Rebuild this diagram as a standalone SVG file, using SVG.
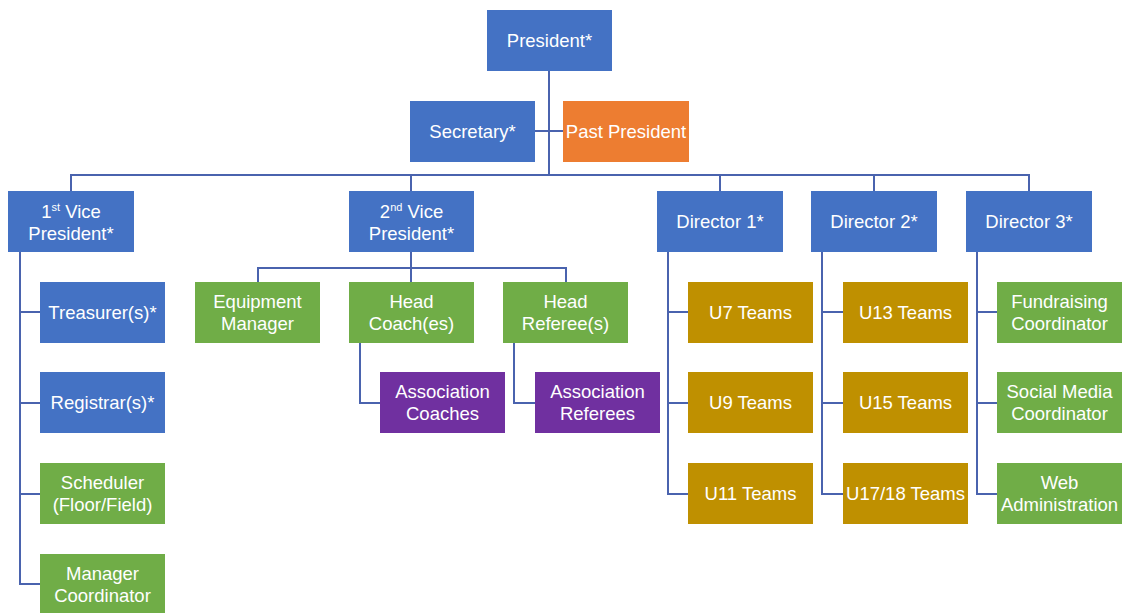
<svg xmlns="http://www.w3.org/2000/svg" width="1127" height="613" viewBox="0 0 1127 613">
<style>
.box{stroke:none}
.blue{fill:#4472C4}
.orange{fill:#ED7D31}
.green{fill:#70AD47}
.gold{fill:#BF9000}
.purple{fill:#7030A0}
text{font-family:"Liberation Sans","Open Sans",sans-serif;font-size:18.5px;fill:#FFFFFF;text-anchor:middle}
.sup{font-size:11px}
#connectors path{fill:none;stroke:#4A63AE;stroke-width:2}
</style>
<rect width="1127" height="613" fill="#FFFFFF"/>
<g id="connectors">
<path d="M549 71 V175"/>
<path d="M535 131 H563"/>
<path d="M71 191 V175 H1029 V191"/>
<path d="M411 175 V191"/>
<path d="M720 175 V191"/>
<path d="M874 175 V191"/>
<path d="M20 252 V584 H40"/>
<path d="M20 312 H40"/>
<path d="M20 403 H40"/>
<path d="M20 494 H40"/>
<path d="M411 252 V268"/>
<path d="M258 282 V268 H566 V282"/>
<path d="M411 268 V282"/>
<path d="M360 343 V403 H380"/>
<path d="M514 343 V403 H535"/>
<path d="M668 252 V494 H688"/>
<path d="M668 312 H688"/>
<path d="M668 403 H688"/>
<path d="M822 252 V494 H843"/>
<path d="M822 312 H843"/>
<path d="M822 403 H843"/>
<path d="M977 252 V494 H997"/>
<path d="M977 312 H997"/>
<path d="M977 403 H997"/>
</g>
<g id="president"><rect class="box blue" x="487" y="10" width="125" height="61"/><text x="549.5" y="47">President*</text></g>
<g id="secretary"><rect class="box blue" x="410" y="101" width="125" height="61"/><text x="472.5" y="138">Secretary*</text></g>
<g id="past-president"><rect class="box orange" x="563" y="101" width="126" height="61"/><text x="626" y="138">Past President</text></g>
<g id="vp1"><rect class="box blue" x="8" y="191" width="126" height="61"/><text x="71" y="218">1<tspan class="sup" dy="-7">st</tspan><tspan dy="7"> Vice</tspan></text><text x="71" y="240">President*</text></g>
<g id="vp2"><rect class="box blue" x="349" y="191" width="125" height="61"/><text x="411.5" y="218">2<tspan class="sup" dy="-7">nd</tspan><tspan dy="7"> Vice</tspan></text><text x="411.5" y="240">President*</text></g>
<g id="director1"><rect class="box blue" x="657" y="191" width="126" height="61"/><text x="720" y="228">Director 1*</text></g>
<g id="director2"><rect class="box blue" x="811" y="191" width="126" height="61"/><text x="874" y="228">Director 2*</text></g>
<g id="director3"><rect class="box blue" x="966" y="191" width="126" height="61"/><text x="1029" y="228">Director 3*</text></g>
<g id="treasurer"><rect class="box blue" x="40" y="282" width="125" height="61"/><text x="102.5" y="319">Treasurer(s)*</text></g>
<g id="registrar"><rect class="box blue" x="40" y="372" width="125" height="61"/><text x="102.5" y="409">Registrar(s)*</text></g>
<g id="scheduler"><rect class="box green" x="40" y="463" width="125" height="61"/><text x="102.5" y="489">Scheduler</text><text x="102.5" y="511">(Floor/Field)</text></g>
<g id="manager-coordinator"><rect class="box green" x="40" y="554" width="125" height="61"/><text x="102.5" y="580">Manager</text><text x="102.5" y="602">Coordinator</text></g>
<g id="equipment-manager"><rect class="box green" x="195" y="282" width="125" height="61"/><text x="257.5" y="308">Equipment</text><text x="257.5" y="330">Manager</text></g>
<g id="head-coach"><rect class="box green" x="349" y="282" width="125" height="61"/><text x="411.5" y="308">Head</text><text x="411.5" y="330">Coach(es)</text></g>
<g id="head-referee"><rect class="box green" x="503" y="282" width="125" height="61"/><text x="565.5" y="308">Head</text><text x="565.5" y="330">Referee(s)</text></g>
<g id="association-coaches"><rect class="box purple" x="380" y="372" width="125" height="61"/><text x="442.5" y="398">Association</text><text x="442.5" y="420">Coaches</text></g>
<g id="association-referees"><rect class="box purple" x="535" y="372" width="125" height="61"/><text x="597.5" y="398">Association</text><text x="597.5" y="420">Referees</text></g>
<g id="u7"><rect class="box gold" x="688" y="282" width="125" height="61"/><text x="750.5" y="319">U7 Teams</text></g>
<g id="u9"><rect class="box gold" x="688" y="372" width="125" height="61"/><text x="750.5" y="409">U9 Teams</text></g>
<g id="u11"><rect class="box gold" x="688" y="463" width="125" height="61"/><text x="750.5" y="500">U11 Teams</text></g>
<g id="u13"><rect class="box gold" x="843" y="282" width="125" height="61"/><text x="905.5" y="319">U13 Teams</text></g>
<g id="u15"><rect class="box gold" x="843" y="372" width="125" height="61"/><text x="905.5" y="409">U15 Teams</text></g>
<g id="u17"><rect class="box gold" x="843" y="463" width="125" height="61"/><text x="905.5" y="500">U17/18 Teams</text></g>
<g id="fundraising"><rect class="box green" x="997" y="282" width="125" height="61"/><text x="1059.5" y="308">Fundraising</text><text x="1059.5" y="330">Coordinator</text></g>
<g id="social-media"><rect class="box green" x="997" y="372" width="125" height="61"/><text x="1059.5" y="398">Social Media</text><text x="1059.5" y="420">Coordinator</text></g>
<g id="web-admin"><rect class="box green" x="997" y="463" width="125" height="61"/><text x="1059.5" y="489">Web</text><text x="1059.5" y="511">Administration</text></g>
</svg>
